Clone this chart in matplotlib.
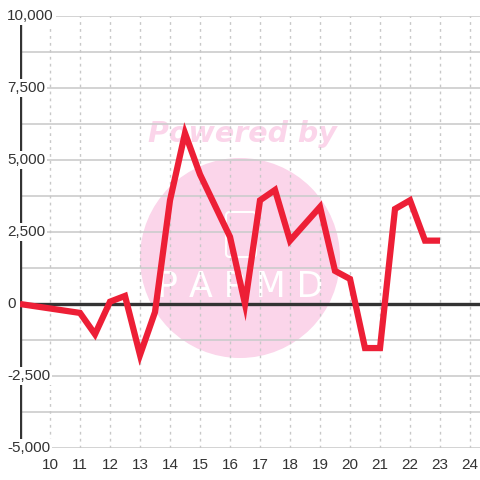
import matplotlib
matplotlib.use("Agg")
import matplotlib.pyplot as plt
from matplotlib.patches import Circle, FancyBboxPatch

# data
x_vals = [9, 11, 11.5, 12, 12.5, 13, 13.5, 14, 14.5, 15, 16, 16.5, 17, 17.5,
          18, 19, 19.5, 20, 20.5, 21, 21.5, 22, 22.5, 23]
y_vals = [0, -310, -1050, 80, 280, -1770, -280, 3600, 5930, 4500, 2330, 0,
          3600, 3960, 2200, 3370, 1150, 870, -1530, -1530, 3300, 3600, 2200, 2200]
x_ticks = list(range(10, 25))
y_ticks = [-5000, -2500, 0, 2500, 5000, 7500, 10000]
y_grid = [-5000 + 1250 * i for i in range(13)]

plt.rcParams['font.family'] = ['Liberation Sans', 'DejaVu Sans']

fig = plt.figure(figsize=(4.8, 4.8), dpi=100)
ax = fig.add_axes([20 / 480, 32 / 480, 460 / 480, 432 / 480])
ax.set_xlim(9, 24.333)
ax.set_ylim(-5000, 10000)

# watermark (circle + "Powered by" + logo)
ax.add_patch(Circle((0.5, 1 - 258 / 480), 100 / 480, transform=fig.transFigure,
                    facecolor='#fbd5ea', edgecolor='none', zorder=0.1))
ax.text(0.5 + 2 / 480, 1 - 134 / 480, 'Powered by', transform=fig.transFigure,
        ha='center', va='center', fontsize=20.5, fontweight='bold', fontstyle='italic',
        family='DejaVu Sans', color='#fbd5ea', zorder=0.2)
ax.add_patch(FancyBboxPatch((226 / 480, 1 - 257 / 480), 30 / 480, 45 / 480,
                            boxstyle='round,pad=0,rounding_size=0.008',
                            transform=fig.transFigure, facecolor='none',
                            edgecolor='white', lw=1.5, zorder=0.3))
ax.text(0.5, 1 - 287 / 480, 'P A P M D', transform=fig.transFigure, ha='center',
        va='center', fontsize=25, color='white', family='DejaVu Sans', zorder=0.3)

# grid
for yg in y_grid:
    ax.axhline(yg, color='#cccccc', lw=1.2, zorder=0.5)
for xg in x_ticks:
    ax.axvline(xg, color='#c8c8c8', lw=1, ls=(0, (2, 3)), zorder=0.5)

# zero line and left axis line
ax.axhline(0, color='#333333', lw=2.4, zorder=2)
ax.axvline(9, color='#333333', lw=2.4, zorder=2)

# y labels sit over the axis line, left aligned near the figure edge
label_x = (7 - 20) / 460
for yt in y_ticks:
    ax.text(label_x, yt, f'{yt:,}', transform=ax.get_yaxis_transform(),
            ha='left', va='center', fontsize=11, color='#333333', zorder=4,
            bbox=dict(facecolor='white', edgecolor='none', pad=1.5))

ax.plot(x_vals, y_vals, color='#ed1f36', lw=4.5, solid_joinstyle='miter',
        solid_capstyle='butt', zorder=5)

ax.set_xticks(x_ticks)
ax.set_xticklabels([str(t) for t in x_ticks], fontsize=11, color='#333333')
ax.set_yticks([])
ax.tick_params(axis='x', length=0, pad=7)
for s in ax.spines.values():
    s.set_visible(False)

fig.savefig('out.png', dpi=100)
